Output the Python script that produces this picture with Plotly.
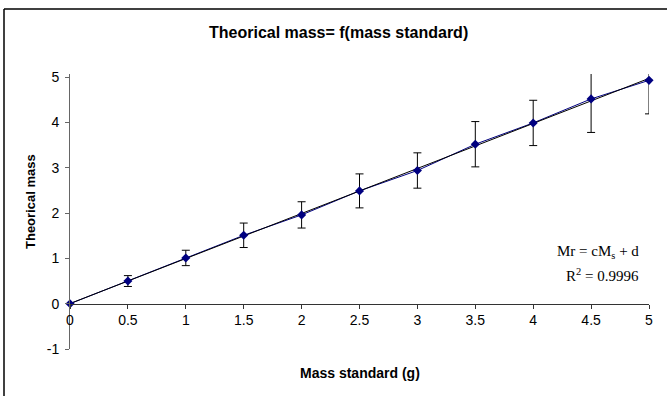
import numpy as np
import plotly.graph_objects as go

mass_standard = [0, 0.5, 1, 1.5, 2, 2.5, 3, 3.5, 4, 4.5, 5]
theorical_mass = [0, 0.50, 1.01, 1.51, 1.96, 2.49, 2.94, 3.52, 3.99, 4.52, 4.93]
error_values = [0, 0.12, 0.17, 0.27, 0.29, 0.375, 0.39, 0.5, 0.5, 0.74, 0.74]
x_ticks = [0, 0.5, 1, 1.5, 2, 2.5, 3, 3.5, 4, 4.5, 5]
y_ticks = [-1, 0, 1, 2, 3, 4, 5]

# linear trendline (least squares on the data)
c, d = np.polyfit(mass_standard, theorical_mass, 1)
trend_x = [min(mass_standard), max(mass_standard)]
trend_y = [c * v + d for v in trend_x]

W, H = 667, 396
L, R, T, B = 70, 18, 74, 47
YMIN, YMAX = -1, 5.07
pw, ph = W - L - R, H - T - B

def px(xp):
    return (xp - L) / pw

def py(yp):
    return 1 - (yp - T) / ph

font = "Liberation Sans, Arial, sans-serif"

fig = go.Figure()
fig.add_trace(go.Scatter(
    x=mass_standard, y=theorical_mass, mode="markers",
    marker=dict(size=0.1, color="rgba(0,0,0,0)"),
    error_y=dict(type="data", array=error_values, visible=True,
                 color="black", thickness=1, width=4),
    showlegend=False, hoverinfo="skip"))
fig.add_trace(go.Scatter(
    x=mass_standard, y=theorical_mass, mode="lines",
    line=dict(color="#000080", width=1), showlegend=False))
fig.add_trace(go.Scatter(
    x=trend_x, y=trend_y, mode="lines",
    line=dict(color="black", width=1), showlegend=False))
fig.add_trace(go.Scatter(
    x=mass_standard, y=theorical_mass, mode="markers",
    marker=dict(symbol="diamond", size=7, color="#000080"),
    cliponaxis=False, showlegend=False))

fig.update_layout(
    width=W, height=H, autosize=False,
    margin=dict(l=L, r=R, t=T, b=B),
    paper_bgcolor="white", plot_bgcolor="white",
    font=dict(family=font, size=14, color="black"),
    xaxis=dict(range=[0, 5], tickvals=x_ticks, ticktext=[f"{v:g}" for v in x_ticks],
               showgrid=False, zeroline=False, showline=True, linecolor="#333",
               linewidth=1, ticks="outside", ticklen=4, tickcolor="#333",
               anchor="free", position=(0 - YMIN) / (YMAX - YMIN),
               tickfont=dict(size=14)),
    yaxis=dict(range=[YMIN, YMAX], tickvals=y_ticks, ticktext=[f"{v:g}" for v in y_ticks],
               showgrid=False, zeroline=False, showline=True, linecolor="#666",
               linewidth=1, ticks="outside", ticklen=4, tickcolor="#666",
               ticklabelstandoff=3, tickfont=dict(size=14)),
    shapes=[
        dict(type="line", xref="paper", yref="paper",
             x0=px(4), x1=px(W + 5), y0=py(9), y1=py(9),
             line=dict(color="black", width=1.5)),
        dict(type="line", xref="paper", yref="paper",
             x0=px(4), x1=px(4), y0=py(9), y1=py(H + 5),
             line=dict(color="black", width=1.5)),
    ],
    annotations=[
        dict(text="<b>Theorical mass= f(mass standard)</b>", xref="paper", yref="paper",
             x=px(338), y=py(33), showarrow=False, xanchor="center", yanchor="middle",
             font=dict(size=16, family=font)),
        dict(text="<b>Mass standard (g)</b>", xref="paper", yref="paper",
             x=px(360), y=py(373), showarrow=False, xanchor="center", yanchor="middle",
             font=dict(size=14, family=font)),
        dict(text="<b>Theorical mass</b>", xref="paper", yref="paper",
             x=px(30), y=py(202), showarrow=False, xanchor="center", yanchor="middle",
             textangle=-90, font=dict(size=13, family=font)),
        dict(text="Mr = cM<sub>s</sub> + d", xref="paper", yref="paper",
             x=px(641), y=py(252), showarrow=False, xanchor="right", yanchor="middle",
             font=dict(size=15, family="Liberation Serif, Times New Roman, serif")),
        dict(text="R<sup>2</sup> = 0.9996", xref="paper", yref="paper",
             x=px(641), y=py(275), showarrow=False, xanchor="right", yanchor="middle",
             font=dict(size=15, family="Liberation Serif, Times New Roman, serif")),
    ],
)

fig.write_html("out.html", config={"displayModeBar": False},
               post_script="document.body.style.margin='0';document.body.style.overflow='hidden';")
